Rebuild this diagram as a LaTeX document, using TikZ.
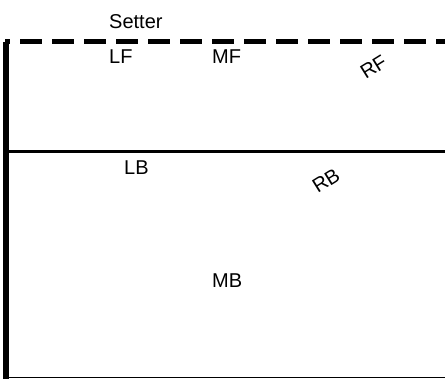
\documentclass[tikz,border=0pt]{standalone}
\usepackage{fontspec}
\setmainfont{Liberation Sans}
\begin{document}
\begin{tikzpicture}[x=1pt,y=-1pt,
  lbl/.style={inner sep=0pt,font=\fontsize{20}{22}\selectfont},
  rlbl/.style={lbl,rotate=32},
  boundary/.style={line width=5.5pt},
  netline/.style={line width=4.5pt,dash pattern=on 22pt off 10pt,dash phase=17pt},
  attackline/.style={line width=3pt},
  endline/.style={line width=1.5pt}]
\useasboundingbox (0,0) rectangle (445,379);
% lines
\coordinate (vt) at (6,42);
\coordinate (vb) at (6,379);
\coordinate (nl) at (5,41.5);
\coordinate (nr) at (445,41.5);
\coordinate (al) at (6,151.5);
\coordinate (ar) at (445,151.5);
\coordinate (bl) at (6,377.5);
\coordinate (br) at (445,377.5);
\draw[boundary] (vt) -- (vb);
\draw[netline] (nl) -- (nr);
\draw[attackline] (al) -- (ar);
\draw[endline] (bl) -- (br);
% labels
\node[lbl,anchor=base west] (setter) at (109,28.5) {Setter};
\node[lbl,anchor=base west] (lf) at (109,63.5) {LF};
\node[lbl,anchor=base west] (mf) at (212,63.5) {MF};
\node[lbl,anchor=base west] (lb) at (124,175) {LB};
\node[lbl,anchor=base west] (mb) at (212,288) {MB};
\node[rlbl] (rf) at (373.5,67) {RF};
\node[rlbl] (rb) at (326,180.5) {RB};
\end{tikzpicture}
\end{document}
